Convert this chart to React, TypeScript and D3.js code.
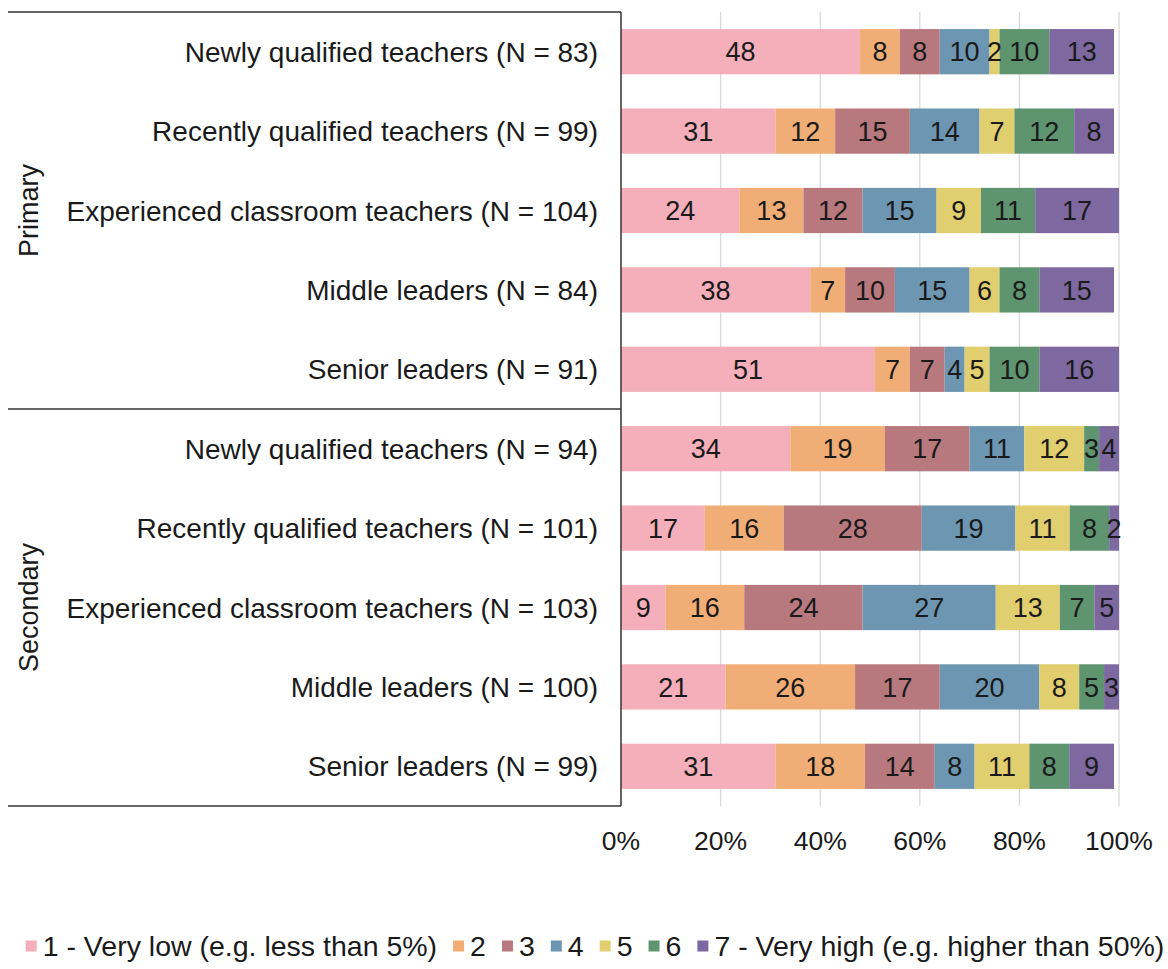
import React, { useEffect, useRef } from "react";
import * as d3 from "d3";

const groups = ["Primary", "Secondary"];
const categories = [
  "Newly qualified teachers (N = 83)",
  "Recently qualified teachers (N = 99)",
  "Experienced classroom teachers (N = 104)",
  "Middle leaders (N = 84)",
  "Senior leaders (N = 91)",
  "Newly qualified teachers (N = 94)",
  "Recently qualified teachers (N = 101)",
  "Experienced classroom teachers (N = 103)",
  "Middle leaders (N = 100)",
  "Senior leaders (N = 99)",
];
const categoryGroup = [0, 0, 0, 0, 0, 1, 1, 1, 1, 1];
const seriesNames = [
  "1 - Very low (e.g. less than 5%)",
  "2",
  "3",
  "4",
  "5",
  "6",
  "7 - Very high (e.g. higher than 50%)",
];
const seriesColors = ["#f4afbb", "#f0ae76", "#b7797d", "#6d96b2", "#e1ce6e", "#5f9471", "#7e68a0"];
const values = [
  [48, 8, 8, 10, 2, 10, 13],
  [31, 12, 15, 14, 7, 12, 8],
  [24, 13, 12, 15, 9, 11, 17],
  [38, 7, 10, 15, 6, 8, 15],
  [51, 7, 7, 4, 5, 10, 16],
  [34, 19, 17, 11, 12, 3, 4],
  [17, 16, 28, 19, 11, 8, 2],
  [9, 16, 24, 27, 13, 7, 5],
  [21, 26, 17, 20, 8, 5, 3],
  [31, 18, 14, 8, 11, 8, 9],
];
const ticks = [0, 20, 40, 60, 80, 100];

const W = 1168;
const H = 969;
const FONT = "'Liberation Sans', Arial, sans-serif";

export default function App() {
  const ref = useRef<SVGSVGElement>(null);
  useEffect(() => {
    const svg = d3.select(ref.current);
    svg.selectAll("*").remove();

    const top = 12, bottom = 806, x0 = 621, x1 = 1119, leftEdge = 8;
    const x = d3.scaleLinear().domain([0, 100]).range([x0, x1]);
    const y = d3.scaleBand<number>().domain(d3.range(categories.length)).range([top, bottom]).paddingInner(0.43).paddingOuter(0.215);

    // gridlines
    svg.append("g").selectAll("line").data(ticks.slice(1)).join("line")
      .attr("x1", d => x(d)).attr("x2", d => x(d))
      .attr("y1", top).attr("y2", bottom)
      .attr("stroke", "#d9d9d9").attr("stroke-width", 1.3);

    // bars (rounded labels; widths capped at 100% when rounding pushes the sum above it)
    const rows = svg.append("g").selectAll("g").data(values).join("g");
    rows.each(function (row, i) {
      const g = d3.select(this);
      const sum = d3.sum(row);
      const k = Math.min(1, 100 / sum);
      let acc = 0;
      const segs = row.map((v, j) => { const s = { v, j, start: acc, w: v * k }; acc += v * k; return s; });
      g.selectAll("rect").data(segs).join("rect")
        .attr("x", d => x(d.start)).attr("width", d => x(d.start + d.w) - x(d.start))
        .attr("y", y(i)!).attr("height", y.bandwidth())
        .attr("fill", d => seriesColors[d.j]);
      g.selectAll("text").data(segs).join("text")
        .attr("x", d => x(d.start + d.w / 2)).attr("y", y(i)! + y.bandwidth() / 2)
        .attr("dy", "0.36em").attr("text-anchor", "middle")
        .attr("font-family", FONT).attr("font-size", 27).attr("fill", "#1a1a1a")
        .text(d => d.v);
    });

    // category labels
    svg.append("g").selectAll("text").data(categories).join("text")
      .attr("x", 598).attr("y", (_, i) => y(i)! + y.bandwidth() / 2)
      .attr("dy", "0.36em").attr("text-anchor", "end")
      .attr("font-family", FONT).attr("font-size", 28).attr("fill", "#1a1a1a")
      .text(d => d);

    // frame lines
    const mid = (y(4)! + y.bandwidth() + y(5)!) / 2;
    const frame = svg.append("g").attr("stroke", "#333").attr("stroke-width", 1.5);
    [top, mid, bottom].forEach(yy => {
      frame.append("line").attr("x1", leftEdge).attr("x2", x0).attr("y1", yy).attr("y2", yy);
    });
    frame.append("line").attr("x1", x0).attr("x2", x0).attr("y1", top).attr("y2", bottom);

    // group labels
    groups.forEach((gname, gi) => {
      const idx = categoryGroup.map((g, i) => (g === gi ? i : -1)).filter(i => i >= 0);
      const cy = (y(idx[0])! + y(idx[idx.length - 1])! + y.bandwidth()) / 2;
      svg.append("text")
        .attr("transform", `translate(38,${cy}) rotate(-90)`)
        .attr("text-anchor", "middle")
        .attr("font-family", FONT).attr("font-size", 27).attr("fill", "#1a1a1a")
        .text(gname);
    });

    // tick labels
    svg.append("g").selectAll("text").data(ticks).join("text")
      .attr("x", d => x(d)).attr("y", 840).attr("dy", "0.36em")
      .attr("text-anchor", "middle")
      .attr("font-family", FONT).attr("font-size", 26.5).attr("fill", "#1a1a1a")
      .text(d => `${d}%`);

    // legend
    const lg = svg.append("g");
    const items = lg.selectAll("g").data(seriesNames).join("g");
    items.append("rect").attr("width", 11).attr("height", 11).attr("y", -5.5)
      .attr("fill", (_, i) => seriesColors[i]);
    items.append("text").attr("x", 17).attr("dy", "0.36em")
      .attr("font-family", FONT).attr("font-size", 28.5).attr("fill", "#1a1a1a")
      .text(d => d);
    let cx = 0;
    const gap = 16;
    items.each(function () {
      const it = d3.select(this);
      const tw = (it.select("text").node() as SVGTextElement).getComputedTextLength();
      it.attr("data-x", cx);
      cx += 17 + tw + gap;
    });
    const total = cx - gap;
    const startX = 595 - total / 2;
    items.attr("transform", function () {
      return `translate(${startX + +d3.select(this).attr("data-x")},946)`;
    });
  }, []);

  return (
    <svg
      ref={ref}
      width={W}
      height={H}
      style={{ position: "absolute", left: 0, top: 0, background: "#fff", display: "block" }}
    />
  );
}
